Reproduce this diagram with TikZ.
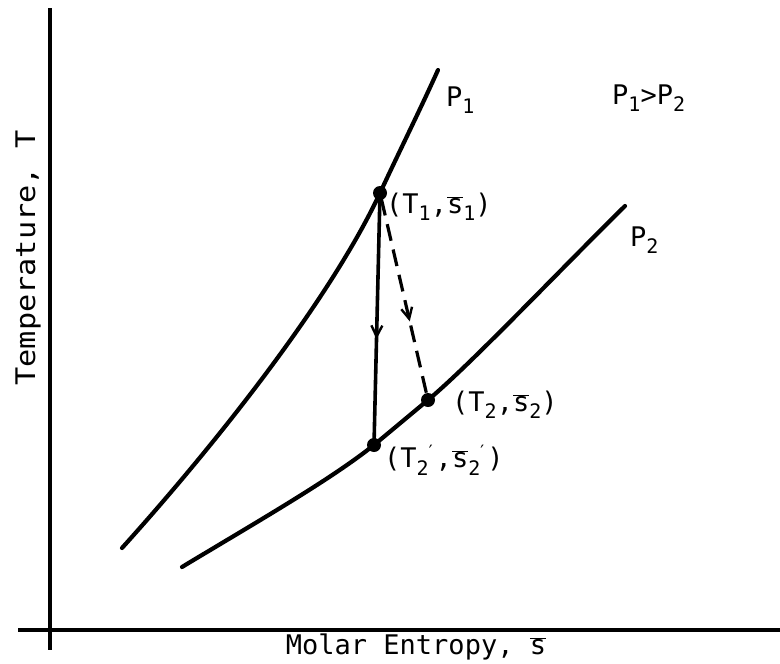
\documentclass[tikz,border=0pt]{standalone}
\usepackage{fontspec}
\setmonofont{DejaVu Sans Mono}
\usetikzlibrary{arrows.meta,decorations.markings}
\newcommand{\mysub}[1]{\raisebox{-0.5ex}{\fontsize{20}{20}\selectfont #1}}
\newcommand{\mysubp}[1]{\raisebox{-0.5ex}{\fontsize{20}{20}\selectfont #1}\kern-0.12em\raisebox{0.7ex}{\fontsize{17}{17}\selectfont\char"2032}}
\newcommand{\sbar}{\ensuremath{\overline{\mbox{s}}}}
\begin{document}
\begin{tikzpicture}[x=1pt,y=-1pt,
  txt/.style={font=\ttfamily\fontsize{27}{27}\selectfont, inner sep=0pt},
  curve/.style={line width=4.2pt, line cap=round},
  axis/.style={line width=3.8pt},
  dot/.style={circle, fill=black, inner sep=0pt, minimum size=14pt},
  midarrow/.style={postaction={decorate}, decoration={markings,
     mark=at position #1 with {\arrow[line width=2.4pt]{Straight Barb[length=11pt,width=11pt]}}}}
]
\useasboundingbox (0,0) rectangle (780,664);
% axes
\coordinate (yt) at (50,8);
\coordinate (yb) at (50,650);
\coordinate (xl) at (18,630);
\coordinate (xr) at (780,630);
\draw[axis] (yt) -- (yb);
\draw[axis] (xl) -- (xr);
% points
\node[dot] (A) at (380,193) {};
\node[dot] (B) at (374,445) {};
\node[dot] (C) at (428,400) {};
% curves
\draw[curve] (122,548) .. controls (215,445) and (330,300) .. (A.center)
   .. controls (400,150) and (420,110) .. (438,70);
\draw[curve] (182,567) .. controls (260,520) and (330,480) .. (B.center)
   .. controls (392,430) and (410,415) .. (C.center)
   .. controls (470,365) and (560,270) .. (625,206);
% process lines
\draw[line width=3.6pt, midarrow=0.58] (A.center) -- (B.center);
\draw[line width=3.2pt, dash pattern=on 17pt off 9pt, dash phase=-6pt, midarrow=0.62] (A.center) -- (C.center);
% labels
\node[txt, anchor=west] (p1) at (446,100) {P\mysub{1}};
\node[txt, anchor=west] (p1p2) at (612,98) {P\mysub{1}>P\mysub{2}};
\node[txt, anchor=west] (p2) at (630,240) {P\mysub{2}};
\node[txt, anchor=west] (l1) at (386,207) {(T\mysub{1},\sbar\mysub{1})};
\node[txt, anchor=west] (l2) at (452,405) {(T\mysub{2},\sbar\mysub{2})};
\node[txt, anchor=west] (l3) at (384,460) {(T\mysubp{2},\sbar\mysubp{2})};
\node[txt, rotate=90] (ylab) at (28,258) {\scalebox{1.12}[1]{Temperature, T}};
\node[txt] (xlab) at (416,647) {Molar Entropy, \sbar};
\end{tikzpicture}
\end{document}
